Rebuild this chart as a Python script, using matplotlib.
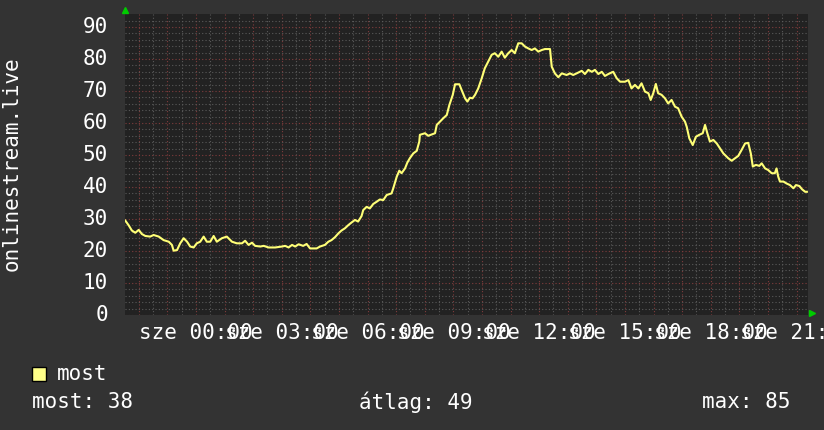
#!/usr/bin/env python3
# -*- coding: utf-8 -*-

import numpy as np
import matplotlib
matplotlib.use('Agg')
from matplotlib import pyplot as plt
from matplotlib.ticker import MultipleLocator

# hours relative to midnight (sze 00:00)
hours = [-2.47, -2.35, -2.24, -2.12, -2.00, -1.89, -1.77, -1.60, -1.48, -1.30,
         -1.13, -0.95, -0.84, -0.78, -0.66, -0.55, -0.43, -0.31, -0.20, -0.08,
         0.03, 0.15, 0.27, 0.38, 0.50, 0.62, 0.73, 0.91, 1.08, 1.26,
         1.43, 1.61, 1.72, 1.84, 1.96, 2.07, 2.25, 2.37, 2.54, 2.77,
         3.01, 3.12, 3.24, 3.36, 3.47, 3.59, 3.75, 3.87, 3.99, 4.22,
         4.34, 4.51, 4.63, 4.74, 4.86, 4.98, 5.09, 5.21, 5.33, 5.44,
         5.56, 5.67, 5.79, 5.85, 5.97, 6.08, 6.20, 6.32, 6.43, 6.55,
         6.67, 6.84, 6.90, 7.02, 7.11, 7.19, 7.31, 7.39, 7.48, 7.60,
         7.72, 7.81, 7.83, 8.01, 8.12, 8.36, 8.42, 8.53, 8.65, 8.77,
         8.86, 8.98, 9.06, 9.21, 9.29, 9.41, 9.49, 9.58, 9.67, 9.76,
         9.87, 9.99, 10.10, 10.22, 10.34, 10.45, 10.57, 10.69, 10.80, 10.92,
         11.04, 11.15, 11.27, 11.39, 11.50, 11.62, 11.74, 11.85, 11.97, 12.09,
         12.20, 12.38, 12.44, 12.55, 12.67, 12.79, 12.96, 13.08, 13.19, 13.31,
         13.49, 13.60, 13.72, 13.84, 13.95, 14.07, 14.19, 14.30, 14.42, 14.59,
         14.71, 14.83, 15.00, 15.12, 15.23, 15.35, 15.47, 15.58, 15.70, 15.82,
         15.90, 15.99, 16.08, 16.16, 16.28, 16.40, 16.51, 16.63, 16.75, 16.86,
         16.98, 17.10, 17.16, 17.25, 17.37, 17.48, 17.60, 17.72, 17.80, 17.88,
         17.97, 18.09, 18.21, 18.32, 18.44, 18.61, 18.73, 18.85, 18.96, 19.08,
         19.20, 19.31, 19.40, 19.47, 19.58, 19.70, 19.78, 19.90, 20.01, 20.13,
         20.24, 20.30, 20.36, 20.42, 20.54, 20.65, 20.77, 20.89, 20.98, 21.10,
         21.19, 21.30, 21.36]

most = [29.5, 28.0, 26.4, 25.7, 26.6, 25.3, 24.7, 24.5, 25.0, 24.5,
        23.4, 22.9, 21.9, 20.1, 20.3, 22.4, 24.0, 22.9, 21.4, 21.1,
        22.4, 22.9, 24.5, 22.9, 22.9, 24.7, 22.9, 24.0, 24.5, 22.9,
        22.4, 22.4, 23.2, 21.9, 22.6, 21.6, 21.4, 21.6, 21.1, 21.1,
        21.4, 21.6, 21.1, 21.9, 21.4, 22.1, 21.6, 22.2, 20.8, 20.8,
        21.4, 21.9, 22.9, 23.4, 24.3, 25.5, 26.4, 27.1, 28.1, 28.9,
        29.7, 29.2, 30.9, 32.8, 33.8, 33.3, 34.7, 35.4, 36.1, 35.9,
        37.5, 38.0, 39.6, 43.2, 45.1, 44.3, 45.8, 47.6, 49.0, 50.5,
        51.3, 54.2, 56.3, 56.8, 56.0, 56.8, 59.4, 60.4, 61.5, 62.5,
        65.6, 68.8, 72.1, 72.1, 70.3, 67.7, 66.7, 67.9, 67.7, 68.8,
        70.8, 73.9, 77.1, 79.2, 81.3, 81.8, 80.7, 82.3, 80.4, 81.8,
        82.8, 81.8, 84.9, 84.9, 83.9, 83.3, 82.8, 83.3, 82.3, 82.8,
        83.1, 83.1, 77.6, 75.5, 74.3, 75.5, 75.0, 75.5, 75.0, 75.5,
        76.3, 75.3, 76.6, 76.0, 76.6, 75.3, 76.0, 74.7, 75.3, 76.0,
        74.0, 72.9, 72.9, 73.4, 70.8, 71.9, 70.8, 72.4, 69.8, 69.3,
        67.2, 69.3, 72.2, 69.3, 68.8, 67.7, 66.1, 67.2, 65.1, 64.6,
        62.0, 60.4, 58.8, 55.2, 53.1, 55.7, 56.3, 56.8, 59.4, 56.8,
        54.2, 54.7, 53.6, 52.1, 50.5, 49.0, 48.2, 49.0, 49.7, 51.6,
        53.6, 53.8, 50.5, 46.4, 46.9, 46.6, 47.4, 45.8, 45.3, 44.3,
        44.3, 45.8, 43.2, 41.7, 41.7, 41.1, 40.6, 39.6, 40.6, 40.3,
        39.3, 38.5, 38.5]

tick_hours = [0, 3, 6, 9, 12, 15, 18, 21]
tick_labels = ['sze %02d:00' % h for h in tick_hours]
yticks = [0, 10, 20, 30, 40, 50, 60, 70, 80, 90]

legend_name = 'most'
stats = ['most: 38', 'átlag: 49', 'max: 85']

fig_bg = '#333333'
plot_bg = '#222222'
line_col = '#ffff77'
font = 'DejaVu Sans Mono'
fs = 15

plt.rcParams['font.family'] = font

fig = plt.figure(figsize=(8.24, 4.30), dpi=100, facecolor=fig_bg)
ax = fig.add_axes([125/824, 115/430, 683/824, 300.5/430])
ax.set_facecolor(plot_bg)

ax.set_xlim(-2.48, 21.40)
ax.set_ylim(0, 93.9)

# grid: gray every half hour / 2 units, red every hour / 10 units
ax.xaxis.set_major_locator(MultipleLocator(1))
ax.xaxis.set_minor_locator(MultipleLocator(0.5))
ax.yaxis.set_major_locator(MultipleLocator(10))
ax.yaxis.set_minor_locator(MultipleLocator(2))
ax.grid(which='minor', color='#5a5a5a', linestyle=(0, (1, 2)), linewidth=0.8)
ax.grid(which='major', color='#803c3c', linestyle=(0, (1, 2)), linewidth=0.8)
ax.set_axisbelow(True)

ax.set_xticklabels([])
ax.set_yticklabels([])
ax.tick_params(which='both', length=0)
for s in ax.spines.values():
    s.set_visible(False)

ax.plot(hours, most, color=line_col, linewidth=1.5, zorder=3)

# tick labels (last one runs off the figure like the original)
for h, lab in zip(tick_hours, tick_labels):
    ax.text(h, -2.5, lab, ha='center', va='top', color='white', fontsize=fs,
            family=font, clip_on=False)
for v in yticks:
    ax.text(-2.48 - 0.6, v, str(v), ha='right', va='center', color='white',
            fontsize=fs, family=font, clip_on=False)

# green arrows at axis ends
ax.plot([0], [1.015], marker='^', color='#00cc00', markersize=5,
        transform=ax.transAxes, clip_on=False)
ax.plot([1.006], [0.006], marker='>', color='#00cc00', markersize=5,
        transform=ax.transAxes, clip_on=False)

fig.text(12/824, 1 - 164/430, 'onlinestream.live', rotation=90, ha='center',
         va='center', color='white', fontsize=fs, family=font)

# legend
fig.patches.append(plt.Rectangle((32/824, 1 - 381/430), 14/824, 14/430,
                                 facecolor='#ffff88', edgecolor='black',
                                 linewidth=1, transform=fig.transFigure))
fig.text(57/824, 1 - 374/430, legend_name, ha='left', va='center',
         color='white', fontsize=fs, family=font)
fig.text(32/824, 1 - 402/430, stats[0], ha='left', va='center',
         color='white', fontsize=fs, family=font)
fig.text(359/824, 1 - 402/430, stats[1], ha='left', va='center',
         color='white', fontsize=fs, family=font)
fig.text(702/824, 1 - 402/430, stats[2], ha='left', va='center',
         color='white', fontsize=fs, family=font)

fig.savefig('out.png', dpi=100, facecolor=fig_bg)
